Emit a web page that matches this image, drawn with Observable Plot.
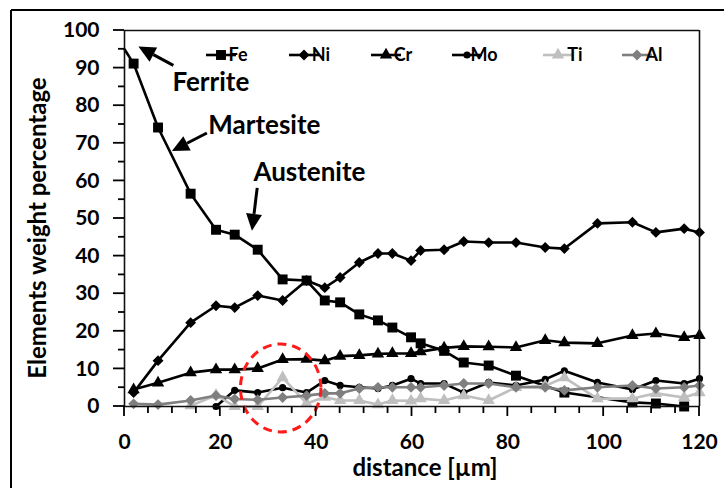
<!DOCTYPE html>
<html><head><meta charset="utf-8">
<script src="https://cdn.jsdelivr.net/npm/d3@7"></script>
<script src="https://cdn.jsdelivr.net/npm/@observablehq/plot@0.6"></script>
<style>
body{margin:0;background:#fff}
#chart{position:relative;width:724px;height:488px}
#overlay{position:absolute;left:0;top:0;width:724px;height:488px;pointer-events:none}
</style>
</head><body><div id="chart"></div>
<script>
// ---- data (distance in µm, weight %) ----
const xFe = [0, 1.9, 7, 13.8, 19.1, 23, 27.8, 33, 38, 41.8, 45, 49, 52.9, 55.9, 59.8, 61.8, 66.7, 70.8, 76, 81.7, 91.8, 106, 110.9, 116.8];
const fe  = [95, 91.2, 74.2, 56.6, 47, 45.7, 41.7, 33.8, 33.5, 28.2, 27.7, 24.5, 22.9, 21.0, 18.4, 16.8, 14.8, 11.7, 10.9, 8.2, 3.7, 1.1, 0.8, 0];
const xNi = [1.9, 7, 13.8, 19.1, 23, 27.8, 33, 38, 41.8, 45, 49, 52.9, 55.9, 59.8, 61.8, 66.7, 70.8, 76, 81.7, 87.8, 91.8, 98.7, 106, 110.9, 116.8, 120];
const ni  = [3.7, 12.2, 22.3, 26.8, 26.3, 29.5, 28.2, 33.5, 31.6, 34.3, 38.3, 40.7, 40.7, 38.8, 41.5, 41.7, 43.9, 43.6, 43.6, 42.3, 42, 48.7, 49, 46.3, 47.3, 46.3];
const xCr = [1.9, 7, 13.8, 19.1, 23, 27.8, 33, 38, 41.8, 45, 49, 52.9, 55.9, 59.8, 61.8, 66.7, 70.8, 76, 81.7, 87.8, 91.8, 98.7, 106, 110.9, 116.8, 120];
const cr  = [4.5, 6.3, 9.0, 9.8, 9.8, 10.1, 12.5, 12.6, 12.2, 13.4, 13.6, 14.0, 14.1, 14.1, 14.6, 15.6, 16.0, 15.9, 15.7, 17.6, 17.0, 16.8, 18.9, 19.4, 18.4, 18.9];
const xMo = [19.1, 23, 27.8, 33, 38, 41.8, 45, 49, 52.9, 55.9, 59.8, 61.8, 66.7, 70.8, 76, 81.7, 87.8, 91.8, 98.7, 106, 110.9, 116.8, 120];
const mo  = [0, 4.3, 3.7, 5.0, 3.7, 6.9, 5.6, 5.1, 4.8, 5.6, 7.4, 6.1, 6.1, 3.7, 6.4, 5.6, 7.2, 9.5, 6.4, 4.5, 6.9, 6.1, 7.4];
const xTi = [13.8, 19.1, 23, 27.8, 33, 38, 41.8, 45, 49, 52.9, 55.9, 59.8, 61.8, 66.7, 70.8, 76, 81.7, 87.8, 91.8, 98.7, 106, 110.9, 116.8, 120];
const ti  = [0.2, 3, 0, 0, 7.7, 0.8, 2.5, 1.6, 1.6, 0.5, 1.6, 1.5, 2.1, 1.6, 2.9, 1.6, 5.1, 5.5, 7.7, 2.1, 2.1, 3.5, 2.4, 3.7];
const xAl = [1.9, 7, 13.8, 19.1, 23, 27.8, 33, 38, 41.8, 45, 49, 52.9, 55.9, 59.8, 61.8, 66.7, 70.8, 76, 81.7, 87.8, 91.8, 98.7, 106, 110.9, 116.8, 120];
const al  = [0.7, 0.5, 1.6, 2.9, 2.0, 1.8, 2.4, 2.9, 3.5, 3.5, 4.8, 5.1, 5.1, 5.1, 5.1, 5.6, 6.1, 6.1, 5.1, 5.1, 4.3, 5.1, 5.6, 4.8, 5.1, 5.6];

const seriesNames = ["Fe", "Ni", "Cr", "Mo", "Ti", "Al"];
const yTicks = [0, 10, 20, 30, 40, 50, 60, 70, 80, 90, 100];
const xTicks = [0, 20, 40, 60, 80, 100, 120];
const yMinor = [5, 15, 25, 35, 45, 55, 65, 75, 85, 95];
const xMinor = [5, 10, 15, 25, 30, 35, 45, 50, 55, 65, 70, 75, 85, 90, 95, 105, 110, 115];
const notes = [
  {text: "Ferrite",   x: 10,   y: 86,   ax1: 10.3, ay1: 90.6, ax2: 3.0, ay2: 95.6},
  {text: "Martesite", x: 17.5, y: 74.7, ax1: 17.3, ay1: 72.6, ax2: 10.0, ay2: 67.8},
  {text: "Austenite", x: 26.9, y: 62.2, ax1: 27.8, ay1: 58.0, ax2: 26.7, ay2: 46.6}
];
const circled = {x: 32.7, y: 4.8, rx: 8.4, ry: 11.7};

// ---- styling ----
const style = {
  Fe: {color: "#000", symbol: "square",   r: 5.6},
  Ni: {color: "#000", symbol: "diamond2", r: 4.9},
  Cr: {color: "#000", symbol: "triangle", r: 4.6},
  Mo: {color: "#000", symbol: "circle",   r: 3.6},
  Ti: {color: "#bfbfbf", symbol: "triangle", r: 4.6},
  Al: {color: "#7f7f7f", symbol: "diamond2", r: 4.9}
};
const raw = {Fe: [xFe, fe], Ni: [xNi, ni], Cr: [xCr, cr], Mo: [xMo, mo], Ti: [xTi, ti], Al: [xAl, al]};
const rows = {};
for (const s of seriesNames) rows[s] = raw[s][0].map((x, i) => ({x, y: raw[s][1][i], s}));

const FONT = "Lato, 'Open Sans', sans-serif";
const marks = [];
for (const s of seriesNames) {
  const st = style[s];
  marks.push(Plot.line(rows[s], {x: "x", y: "y", stroke: st.color, strokeWidth: 2.6}));
  marks.push(Plot.dot(rows[s].filter(d => d.x > 0), {x: "x", y: "y", symbol: st.symbol, fill: st.color, stroke: "none", r: st.r}));
}
marks.push(Plot.ruleY([0, 100], {x1: 0, x2: 120, stroke: "#111", strokeWidth: 1.6}));
marks.push(Plot.ruleX([0, 120], {y1: 0, y2: 100, stroke: "#111", strokeWidth: 1.6}));
marks.push(Plot.axisY(yTicks, {tickSize: 0, tickPadding: 25, fontSize: 21, fontWeight: "bold", fontFamily: FONT, label: null}));
marks.push(Plot.axisX(xTicks, {tickSize: 0, tickPadding: 28, fontSize: 21, fontWeight: "bold", fontFamily: FONT, label: null}));
marks.push(Plot.text(notes, {x: "x", y: "y", text: "text", textAnchor: "start", fontSize: 26, fontWeight: "bold", fontFamily: FONT, fill: "#000"}));

const chart = Plot.plot({
  width: 724, height: 488,
  marginLeft: 124, marginRight: 25, marginTop: 30, marginBottom: 82,
  x: {domain: [0, 120], label: null},
  y: {domain: [0, 100], label: null},
  marks
});
const host = document.getElementById("chart");
host.appendChild(chart);

const sx = chart.scale("x"), sy = chart.scale("y");
const svg = d3.select(chart).attr("font-family", FONT);

// arrows with filled heads
for (const n of notes) {
  const x1 = sx.apply(n.ax1), y1 = sy.apply(n.ay1), x2 = sx.apply(n.ax2), y2 = sy.apply(n.ay2);
  const ang = Math.atan2(y2 - y1, x2 - x1), L = 17, W = 8;
  const bx = x2 - L * Math.cos(ang), by = y2 - L * Math.sin(ang);
  svg.append("line").attr("x1", x1).attr("y1", y1).attr("x2", bx).attr("y2", by).attr("stroke", "#000").attr("stroke-width", 3);
  svg.append("path").attr("d", `M${x2},${y2}L${bx + W * Math.sin(ang)},${by - W * Math.cos(ang)}L${bx - W * Math.sin(ang)},${by + W * Math.cos(ang)}Z`).attr("fill", "#000");
}

// dashed red ellipse
svg.append("ellipse")
  .attr("cx", sx.apply(circled.x)).attr("cy", sy.apply(circled.y))
  .attr("rx", sx.apply(circled.x + circled.rx) - sx.apply(circled.x))
  .attr("ry", sy.apply(circled.y) - sy.apply(circled.y + circled.ry))
  .attr("fill", "none").attr("stroke", "#ff1a1a").attr("stroke-width", 3).attr("stroke-dasharray", "9,6");

// axis titles
svg.append("text").attr("x", 425).attr("y", 468).attr("dy", "0.35em").attr("text-anchor", "middle")
  .attr("font-family", FONT).attr("font-size", 24).attr("font-weight", "bold").text("distance [µm]");
svg.append("text").attr("transform", "translate(38,228) rotate(-90)").attr("dy", "0.35em").attr("text-anchor", "middle")
  .attr("font-family", FONT).attr("font-size", 24).attr("font-weight", "bold").text("Elements weight percentage");

// legend
const lg = svg.append("g").attr("font-family", FONT).attr("font-size", 18).attr("font-weight", "bold");
const legX = [206, 289, 371, 452, 543, 622];
seriesNames.forEach((s, i) => {
  const st = style[s], x0 = legX[i];
  lg.append("line").attr("x1", x0).attr("x2", x0 + 30).attr("y1", 55).attr("y2", 55).attr("stroke", st.color).attr("stroke-width", 2.6);
  const sym = d3.symbol().type(st.symbol === "square" ? d3.symbolSquare : st.symbol === "diamond2" ? d3.symbolDiamond2 : st.symbol === "triangle" ? d3.symbolTriangle : d3.symbolCircle).size(Math.PI * st.r * st.r);
  lg.append("path").attr("d", sym()).attr("transform", `translate(${x0 + 15},55)`).attr("fill", st.color);
  lg.append("text").attr("x", x0 + 32).attr("y", 55).attr("dy", "0.36em").attr("fill", "#000").text(s);
});

// outer figure frame
svg.append("line").attr("x1", 11).attr("x2", 11).attr("y1", 10).attr("y2", 488).attr("stroke", "#000").attr("stroke-width", 2);
svg.append("line").attr("x1", 11).attr("x2", 724).attr("y1", 10).attr("y2", 10).attr("stroke", "#000").attr("stroke-width", 2);

// tick marks in an overlay SVG on top of everything, positioned through the chart's scales
const ov = d3.select(host).append("svg").attr("id", "overlay").attr("width", 724).attr("height", 488)
  .attr("viewBox", "0 0 724 488");
const xAxisY = sy.apply(0), yAxisX = sx.apply(0);
const tickSpec = [
  ...yTicks.map(v => ({x1: yAxisX - 11, x2: yAxisX, y1: sy.apply(v), y2: sy.apply(v)})),
  ...yMinor.map(v => ({x1: yAxisX - 6, x2: yAxisX, y1: sy.apply(v), y2: sy.apply(v)})),
  ...xTicks.map(v => ({x1: sx.apply(v), x2: sx.apply(v), y1: xAxisY, y2: xAxisY + 10})),
  ...xMinor.map(v => ({x1: sx.apply(v), x2: sx.apply(v), y1: xAxisY, y2: xAxisY + 7}))
];
for (const t of tickSpec) {
  ov.append("line").attr("x1", t.x1).attr("x2", t.x2).attr("y1", t.y1).attr("y2", t.y2)
    .attr("stroke", "#000").attr("stroke-width", 1.8);
}
</script>
</body></html>
